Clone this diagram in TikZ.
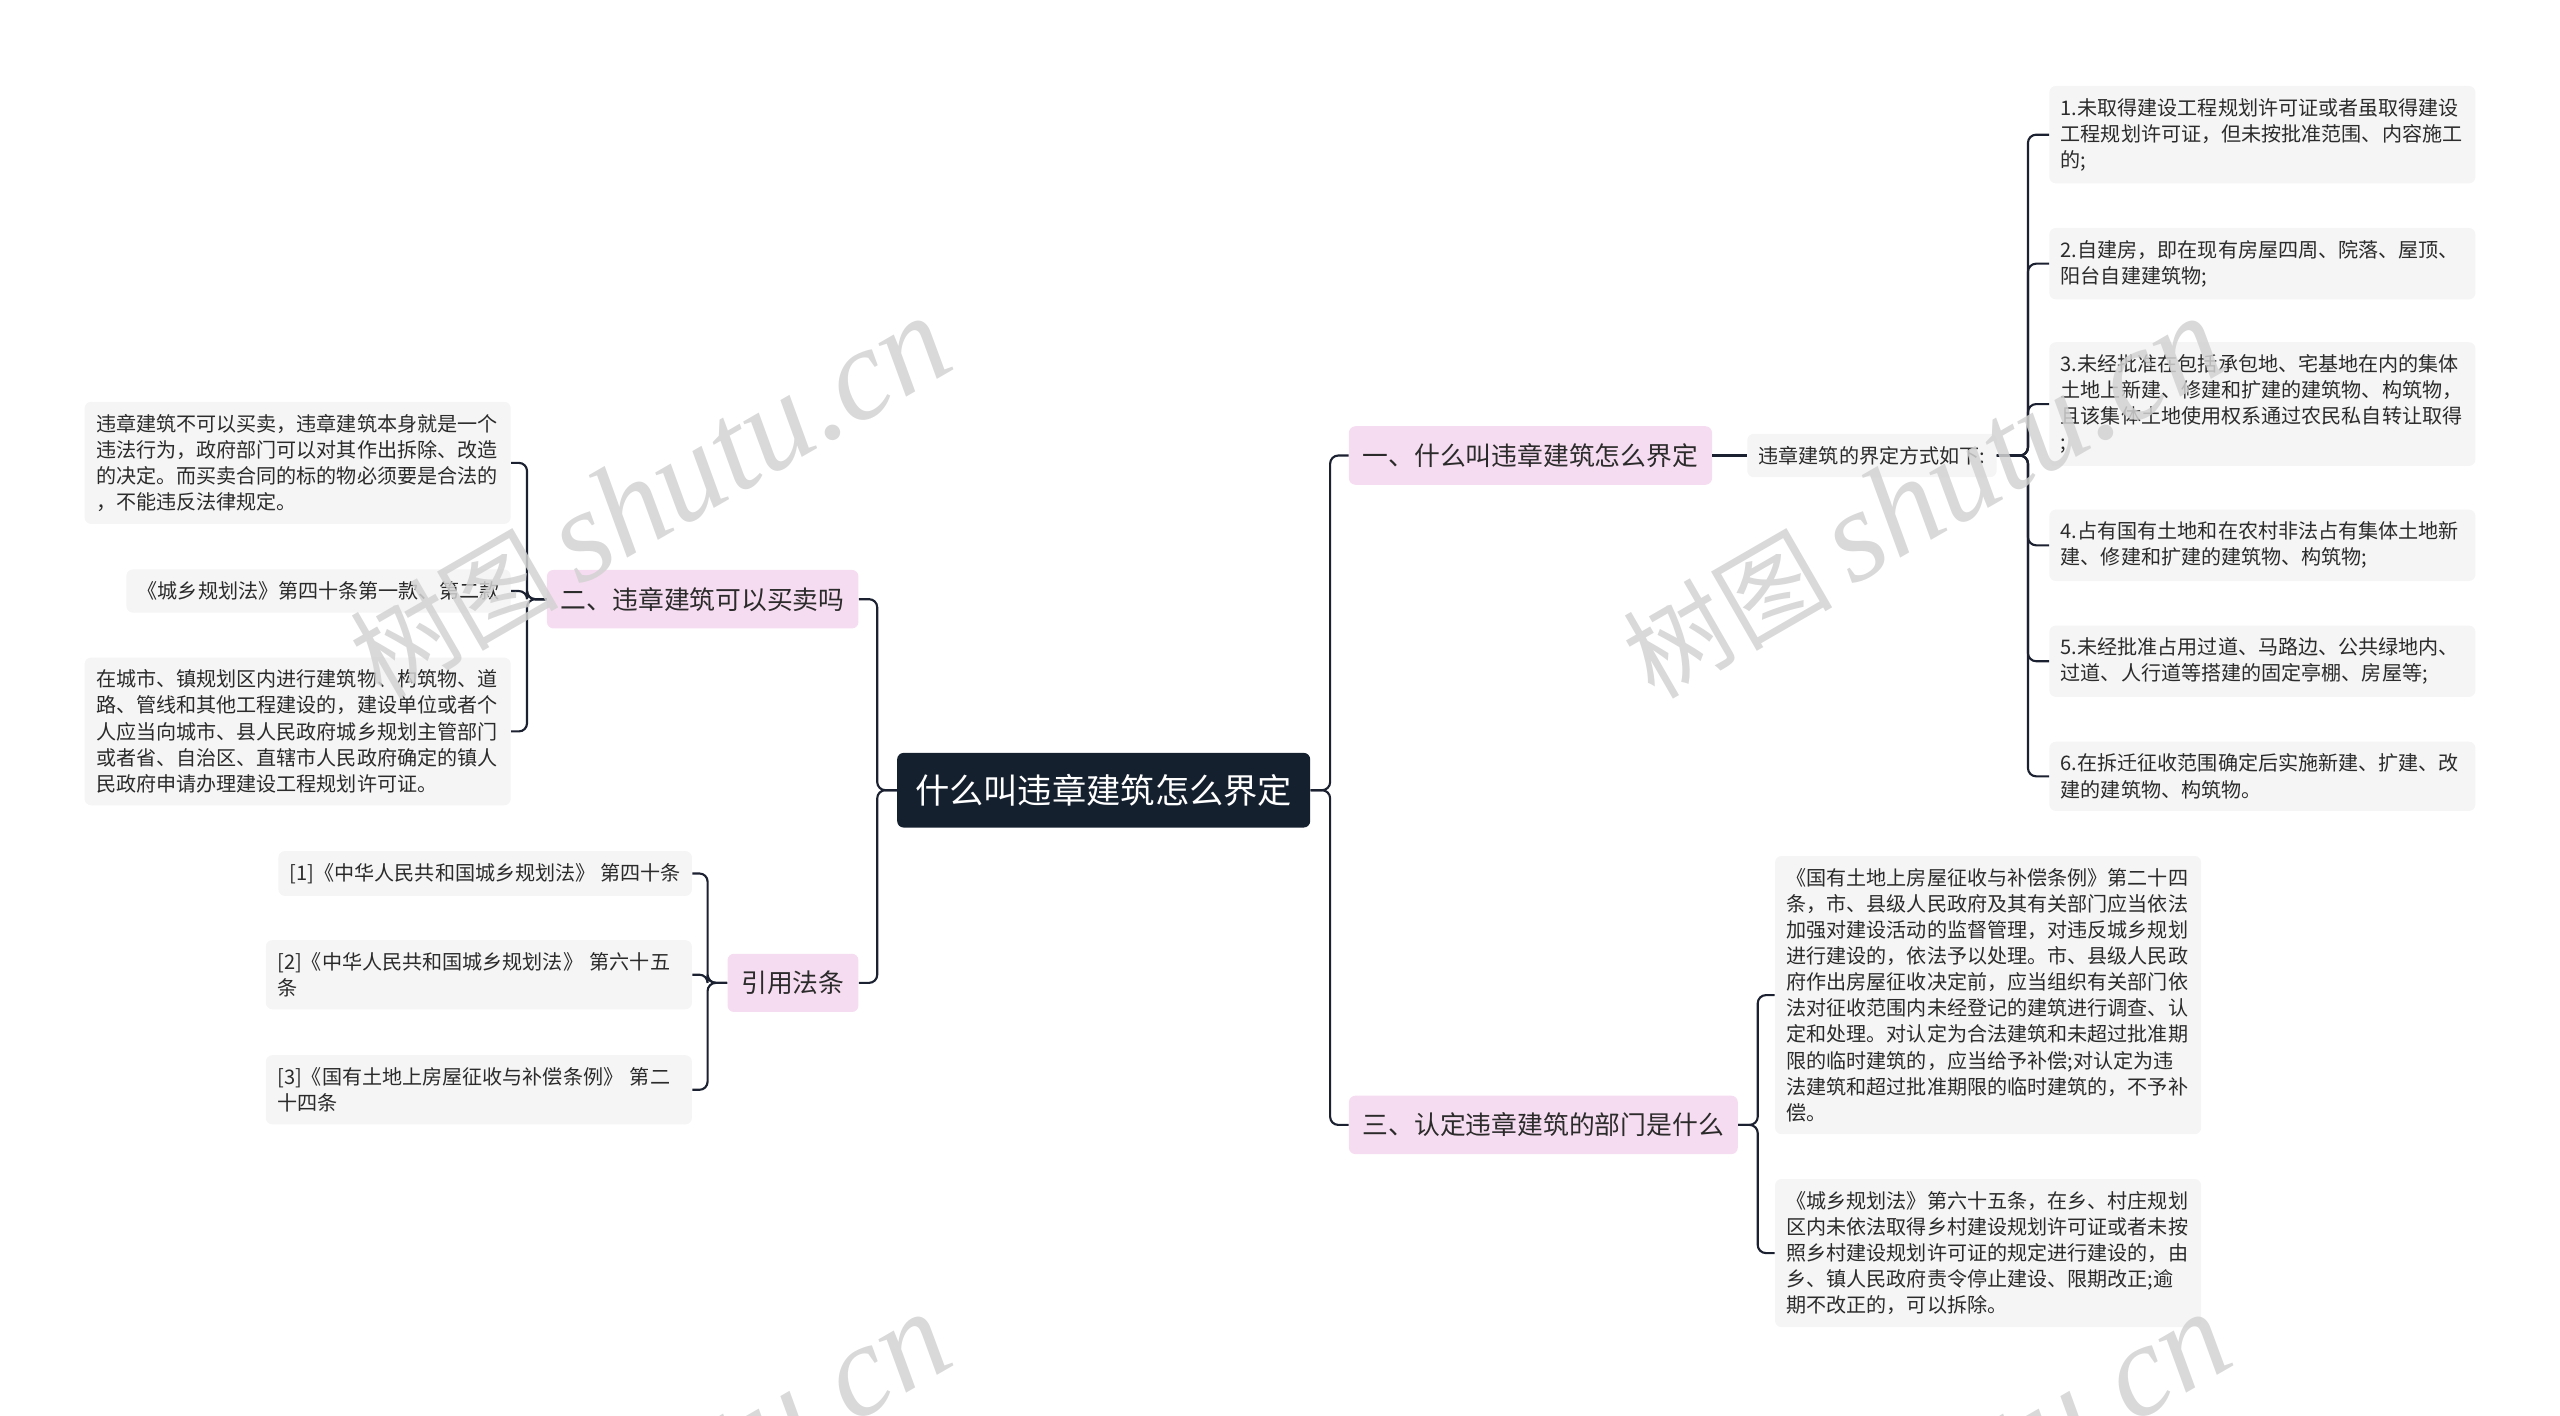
\documentclass[tikz,border=0pt]{standalone}
\usepackage{fontspec}
\setmainfont{Noto Sans CJK SC}
\newfontfamily\wmlatin{Liberation Serif}
\usepackage{tikz}
\definecolor{rootnavy}{HTML}{15202F}
\definecolor{branchpink}{HTML}{F6DCF0}
\definecolor{leafgray}{HTML}{F5F5F5}
\definecolor{linkdark}{HTML}{1B2130}
\definecolor{textdark}{HTML}{2B2B2B}
\definecolor{wmgray}{HTML}{D2D2D2}
\tikzset{
  rootnode/.style={fill=rootnavy, text=white, rounded corners=4pt, font=\fontsize{21pt}{25pt}\selectfont, inner xsep=11pt, inner ysep=13pt},
  branchnode/.style={fill=branchpink, text=textdark, rounded corners=4pt, font=\fontsize{15.8pt}{19pt}\selectfont, inner xsep=8.5pt, inner ysep=10.5pt},
  leafnode/.style={fill=leafgray, text=textdark, rounded corners=4pt, font=\fontsize{12.3pt}{16pt}\selectfont, inner xsep=7pt, inner ysep=7.5pt, align=left},
  wideleaf/.style={leafnode, text width=247pt},
  link/.style={linkdark, line width=1.3pt, rounded corners=5pt},
  wmark/.style={text=wmgray, opacity=0.85, rotate=30, inner sep=0pt}
}
\newcommand{\wmtext}{{\fontsize{64pt}{68pt}\selectfont 树图}\hspace{12pt}{\wmlatin\itshape\fontsize{80pt}{84pt}\selectfont shutu.cn}}

\begin{document}
\begin{tikzpicture}[x=1pt, y=-1pt]
  \useasboundingbox (0,0) rectangle (1568,867);

  \node[rootnode] (root) at (676,484) {什么叫违章建筑怎么界定};

  \node[branchnode, anchor=west] (def) at (826,279) {一、什么叫违章建筑怎么界定};
  \node[branchnode, anchor=west] (dept) at (826,689) {三、认定违章建筑的部门是什么};
  \node[branchnode, anchor=east] (sale) at (526,367) {二、违章建筑可以买卖吗};
  \node[branchnode, anchor=east] (law) at (526,602) {引用法条};

  \node[leafnode, anchor=west] (defway) at (1070,279) {违章建筑的界定方式如下:};

  \node[wideleaf, anchor=west] (d1) at (1255,82.5) {1.未取得建设工程规划许可证或者虽取得建设\\工程规划许可证，但未按批准范围、内容施工\\的;};
  \node[wideleaf, anchor=west] (d2) at (1255,161.5) {2.自建房，即在现有房屋四周、院落、屋顶、\\阳台自建建筑物;};
  \node[wideleaf, anchor=west] (d3) at (1255,247.5) {3.未经批准在包括承包地、宅基地在内的集体\\土地上新建、修建和扩建的建筑物、构筑物，\\且该集体土地使用权系通过农民私自转让取得\\;};
  \node[wideleaf, anchor=west] (d4) at (1255,334) {4.占有国有土地和在农村非法占有集体土地新\\建、修建和扩建的建筑物、构筑物;};
  \node[wideleaf, anchor=west] (d5) at (1255,405) {5.未经批准占用过道、马路边、公共绿地内、\\过道、人行道等搭建的固定亭棚、房屋等;};
  \node[wideleaf, anchor=west] (d6) at (1255,475.5) {6.在拆迁征收范围确定后实施新建、扩建、改\\建的建筑物、构筑物。};

  \node[wideleaf, anchor=west] (p1) at (1087,609.5) {《国有土地上房屋征收与补偿条例》第二十四\\条，市、县级人民政府及其有关部门应当依法\\加强对建设活动的监督管理，对违反城乡规划\\进行建设的，依法予以处理。市、县级人民政\\府作出房屋征收决定前，应当组织有关部门依\\法对征收范围内未经登记的建筑进行调查、认\\定和处理。对认定为合法建筑和未超过批准期\\限的临时建筑的，应当给予补偿;对认定为违\\法建筑和超过批准期限的临时建筑的，不予补\\偿。};
  \node[wideleaf, anchor=west] (p2) at (1087,767.5) {《城乡规划法》第六十五条，在乡、村庄规划\\区内未依法取得乡村建设规划许可证或者未按\\照乡村建设规划许可证的规定进行建设的，由\\乡、镇人民政府责令停止建设、限期改正;逾\\期不改正的，可以拆除。};

  \node[wideleaf, anchor=east] (s1) at (313,283.5) {违章建筑不可以买卖，违章建筑本身就是一个\\违法行为，政府部门可以对其作出拆除、改造\\的决定。而买卖合同的标的物必须要是合法的\\，不能违反法律规定。};
  \node[leafnode, anchor=east] (s2) at (313,362) {《城乡规划法》第四十条第一款、第二款};
  \node[wideleaf, anchor=east] (s3) at (313,448) {在城市、镇规划区内进行建筑物、构筑物、道\\路、管线和其他工程建设的，建设单位或者个\\人应当向城市、县人民政府城乡规划主管部门\\或者省、自治区、直辖市人民政府确定的镇人\\民政府申请办理建设工程规划许可证。};

  \node[leafnode, anchor=east] (l1) at (424,535) {[1]《中华人民共和国城乡规划法》 第四十条};
  \node[wideleaf, anchor=east] (l2) at (424,597) {[2]《中华人民共和国城乡规划法》 第六十五\\条};
  \node[wideleaf, anchor=east] (l3) at (424,667.5) {[3]《国有土地上房屋征收与补偿条例》 第二\\十四条};

  \foreach \n in {def,dept}
    \draw[link] (root.east) -- ++(12,0) |- (\n.west);
  \foreach \n in {sale,law}
    \draw[link] (root.west) -- ++(-12,0) |- (\n.east);
  \draw[link] (def.east) -- (defway.west);
  \foreach \n in {d1,d2,d3,d4,d5,d6}
    \draw[link] (defway.east) -- ++(19,0) |- (\n.west);
  \foreach \n in {p1,p2}
    \draw[link] (dept.east) -- ++(12,0) |- (\n.west);
  \foreach \n in {s1,s2,s3}
    \draw[link] (sale.west) -- ++(-12,0) |- (\n.east);
  \foreach \n in {l1,l2,l3}
    \draw[link] (law.west) -- ++(-12,0) |- (\n.east);

  \begin{scope}
    \clip (0,0) rectangle (1568,867);
    \node[wmark] (wm1) at (398,305) {\wmtext};
    \node[wmark] (wm2) at (1178,305) {\wmtext};
    \node[wmark] (wm3) at (398,915) {\wmtext};
    \node[wmark] (wm4) at (1182,915) {\wmtext};
  \end{scope}
\end{tikzpicture}
\end{document}
